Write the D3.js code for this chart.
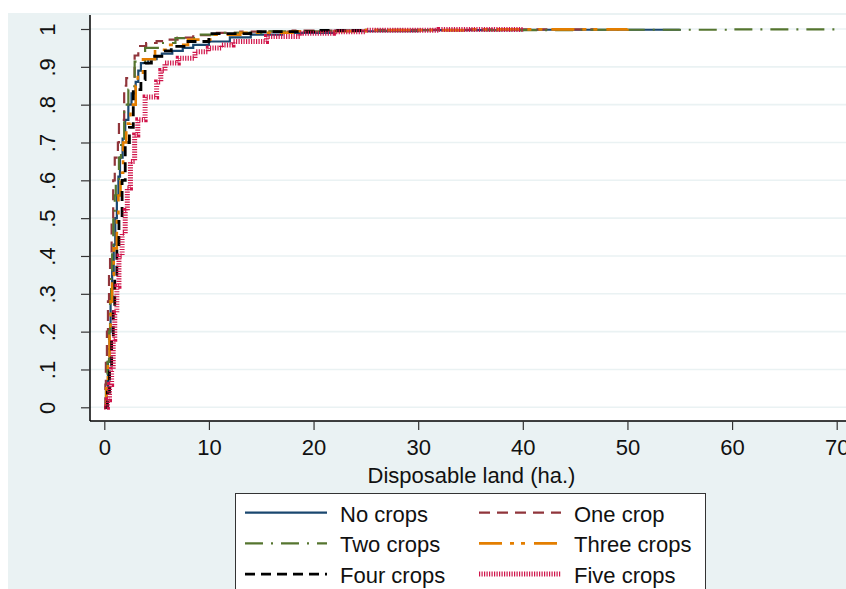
<!DOCTYPE html>
<html>
<head>
<meta charset="utf-8">
<script src="https://cdn.jsdelivr.net/npm/d3@7"></script>
<style>
  body { margin: 0; background: #fff; }
  svg text { font-family: "Liberation Sans", Arial, sans-serif; fill: #111; }
</style>
</head>
<body>
<div id="chart"></div>
<script>
// Cumulative share of households by disposable land (ha.)
const noCrops = [[0,0],[0.2,0.05],[0.35,0.12],[0.5,0.2],[0.6,0.28],[0.75,0.36],[0.9,0.43],[1.05,0.5],[1.2,0.56],[1.35,0.61],[1.5,0.66],[1.75,0.71],[2.0,0.76],[2.3,0.8],[2.6,0.83],[3.0,0.86],[3.25,0.89],[3.5,0.91],[4.2,0.92],[5.0,0.928],[5.5,0.935],[6.5,0.942],[7.5,0.95],[8.5,0.958],[10,0.967],[12,0.978],[14,0.985],[17,0.99],[22,0.994],[30,0.997],[40,0.998],[55,1.0]];
const oneCrop = [[0,0],[0.1,0.06],[0.15,0.13],[0.25,0.2],[0.35,0.28],[0.45,0.35],[0.55,0.4],[0.7,0.5],[0.85,0.6],[1.0,0.66],[1.3,0.7],[1.4,0.76],[1.9,0.85],[2.1,0.87],[2.9,0.93],[3.25,0.955],[4.0,0.963],[5,0.968],[6,0.972],[7,0.977],[8.5,0.984],[10.5,0.99],[13,0.993],[18,0.996],[25,0.998],[35,0.999],[47,1.0]];
const twoCrops = [[0,0],[0.15,0.05],[0.3,0.12],[0.45,0.2],[0.55,0.28],[0.65,0.35],[0.75,0.42],[0.86,0.5],[1.0,0.56],[1.1,0.6],[1.4,0.66],[1.6,0.7],[1.9,0.8],[2.3,0.84],[2.87,0.86],[2.9,0.914],[3.9,0.95],[5.5,0.963],[6.8,0.976],[8.7,0.985],[11,0.99],[15,0.994],[22,0.996],[30,0.997],[45,0.998],[60,0.999],[70,1.0]];
const threeCrops = [[0,0],[0.2,0.05],[0.35,0.12],[0.5,0.2],[0.6,0.28],[0.75,0.35],[0.9,0.42],[1.2,0.5],[1.35,0.56],[1.55,0.62],[1.8,0.7],[2.1,0.75],[2.5,0.8],[3.0,0.85],[3.2,0.88],[3.7,0.92],[4.85,0.945],[6,0.958],[8,0.972],[10.3,0.985],[13,0.99],[18,0.994],[25,0.997],[35,0.999],[50,1.0]];
const fourCrops = [[0,0],[0.3,0.04],[0.5,0.1],[0.7,0.18],[0.86,0.26],[1.0,0.34],[1.2,0.42],[1.4,0.5],[1.7,0.6],[2.0,0.7],[2.4,0.74],[2.77,0.84],[3.5,0.866],[3.9,0.91],[4.5,0.928],[5.5,0.942],[6.4,0.954],[8,0.967],[10,0.988],[14,0.993],[20,0.996],[25,1.0]];
const fiveCrops = [[0,0],[0.3,0.02],[0.5,0.06],[0.7,0.1],[0.85,0.18],[1.0,0.25],[1.2,0.32],[1.4,0.4],[1.7,0.46],[2.0,0.52],[2.2,0.58],[2.5,0.65],[2.9,0.72],[3.2,0.76],[3.9,0.82],[5.0,0.86],[5.4,0.89],[5.8,0.91],[7.07,0.923],[8.67,0.94],[9.94,0.95],[11.2,0.958],[12.3,0.967],[15.5,0.98],[18.7,0.989],[21.9,0.993],[25,0.997],[32,0.999],[40,1.0]];

const seriesNames = ["No crops", "One crop", "Two crops", "Three crops", "Four crops", "Five crops"];
const xTicks = [0, 10, 20, 30, 40, 50, 60, 70];
const yTicks = [0, 0.1, 0.2, 0.3, 0.4, 0.5, 0.6, 0.7, 0.8, 0.9, 1];
const yTickLabels = ["0", ".1", ".2", ".3", ".4", ".5", ".6", ".7", ".8", ".9", "1"];

const series = [
  { name: seriesNames[0], values: noCrops, color: "#1a476f", width: 2.2, dash: null },
  { name: seriesNames[1], values: oneCrop, color: "#90353b", width: 2.2, dash: "11,7" },
  { name: seriesNames[2], values: twoCrops, color: "#55752f", width: 2.2, dash: "18,8,2,8" },
  { name: seriesNames[3], values: threeCrops, color: "#e37e00", width: 2.6, dash: "23,8,4,7,4,9" },
  { name: seriesNames[4], values: fourCrops, color: "#000000", width: 2.8, dash: "10,6" },
  { name: seriesNames[5], values: fiveCrops, color: "#d0144a", width: 5, dash: "1.2,1.3" }
];

const W = 846, H = 589;
const plot = { left: 90, top: 15, right: 853, bottom: 421 };
const fontSize = "22px";

const svg = d3.select("#chart").append("svg")
  .attr("width", W)
  .attr("height", H);

// graph region + plot region
svg.append("rect").attr("width", W).attr("height", H).attr("fill", "#fff");
svg.append("rect")
  .attr("x", 8).attr("y", 13)
  .attr("width", W - 8).attr("height", H - 13)
  .attr("fill", "#eaf2f3");
svg.append("rect")
  .attr("x", plot.left).attr("y", plot.top)
  .attr("width", plot.right - plot.left).attr("height", plot.bottom - plot.top)
  .attr("fill", "#fff");

const xScale = d3.scaleLinear().domain([0, 70]).range([104.3, 836.7]);
const yScale = d3.scaleLinear().domain([0, 1]).range([407.3, 29]);

// grid
svg.append("g")
  .selectAll("line")
  .data(yTicks)
  .enter()
  .append("line")
  .attr("x1", plot.left)
  .attr("x2", plot.right)
  .attr("y1", (d) => yScale(d))
  .attr("y2", (d) => yScale(d))
  .attr("stroke", "#eaf2f3")
  .attr("stroke-width", 1.6);

svg.append("clipPath")
  .attr("id", "clip")
  .append("rect")
  .attr("x", plot.left).attr("y", plot.top)
  .attr("width", plot.right - plot.left).attr("height", plot.bottom - plot.top);

const line = d3.line()
  .x((d) => xScale(d[0]))
  .y((d) => yScale(d[1]))
  .curve(d3.curveStepAfter);

svg.append("g")
  .attr("clip-path", "url(#clip)")
  .selectAll("path")
  .data(series)
  .enter()
  .append("path")
  .attr("d", (d) => line(d.values))
  .attr("fill", "none")
  .attr("stroke", (d) => d.color)
  .attr("stroke-width", (d) => d.width)
  .attr("stroke-dasharray", (d) => d.dash)
  .attr("stroke-linejoin", "miter");

// axes
const yAxis = svg.append("g")
  .attr("transform", `translate(${plot.left},0)`)
  .call(d3.axisLeft(yScale).tickValues(yTicks).tickSize(9).tickSizeOuter(0)
    .tickFormat((d, i) => yTickLabels[i]));
yAxis.select(".domain").attr("d", `M0,${plot.top}V${plot.bottom}`).attr("stroke", "#000").attr("stroke-width", 1.5);
yAxis.selectAll(".tick line").attr("stroke", "#333").attr("stroke-width", 1.2);
yAxis.selectAll(".tick text")
  .attr("x", null).attr("dy", null)
  .attr("transform", "translate(-35,0) rotate(-90)")
  .attr("text-anchor", "middle")
  .style("font-size", fontSize)
  .style("font-family", "Liberation Sans, Arial, sans-serif")
  .attr("fill", "#111");

const xAxis = svg.append("g")
  .attr("transform", `translate(0,${plot.bottom})`)
  .call(d3.axisBottom(xScale).tickValues(xTicks).tickSize(9).tickSizeOuter(0));
xAxis.select(".domain").attr("d", `M${plot.left},0H${plot.right}`).attr("stroke", "#000").attr("stroke-width", 1.5);
xAxis.selectAll(".tick line").attr("stroke", "#333").attr("stroke-width", 1.2);
xAxis.selectAll(".tick text")
  .attr("y", 34).attr("dy", null)
  .style("font-size", fontSize)
  .style("font-family", "Liberation Sans, Arial, sans-serif")
  .attr("fill", "#111");

svg.append("text")
  .attr("x", (plot.left + plot.right) / 2)
  .attr("y", 483)
  .attr("text-anchor", "middle")
  .style("font-size", fontSize)
  .text("Disposable land (ha.)");

// legend, two columns
const legend = svg.append("g");
legend.append("rect")
  .attr("x", 235.5).attr("y", 493.5)
  .attr("width", 470).attr("height", 120)
  .attr("fill", "#fff")
  .attr("stroke", "#333")
  .attr("stroke-width", 1);

legend.selectAll(".legend-item")
  .data(series)
  .enter()
  .append("g")
  .attr("class", "legend-item")
  .attr("transform", (d, i) => `translate(${i % 2 === 0 ? 245 : 479},${512.7 + Math.floor(i / 2) * 30.7})`)
  .each(function (d) {
    const g = d3.select(this);
    g.append("line")
      .attr("x1", 0).attr("x2", 82)
      .attr("stroke", d.color)
      .attr("stroke-width", d.width)
      .attr("stroke-dasharray", d.dash);
    g.append("text")
      .attr("x", 95)
      .attr("y", 9)
      .style("font-size", fontSize)
      .text(d.name);
  });
</script>
</body>
</html>
